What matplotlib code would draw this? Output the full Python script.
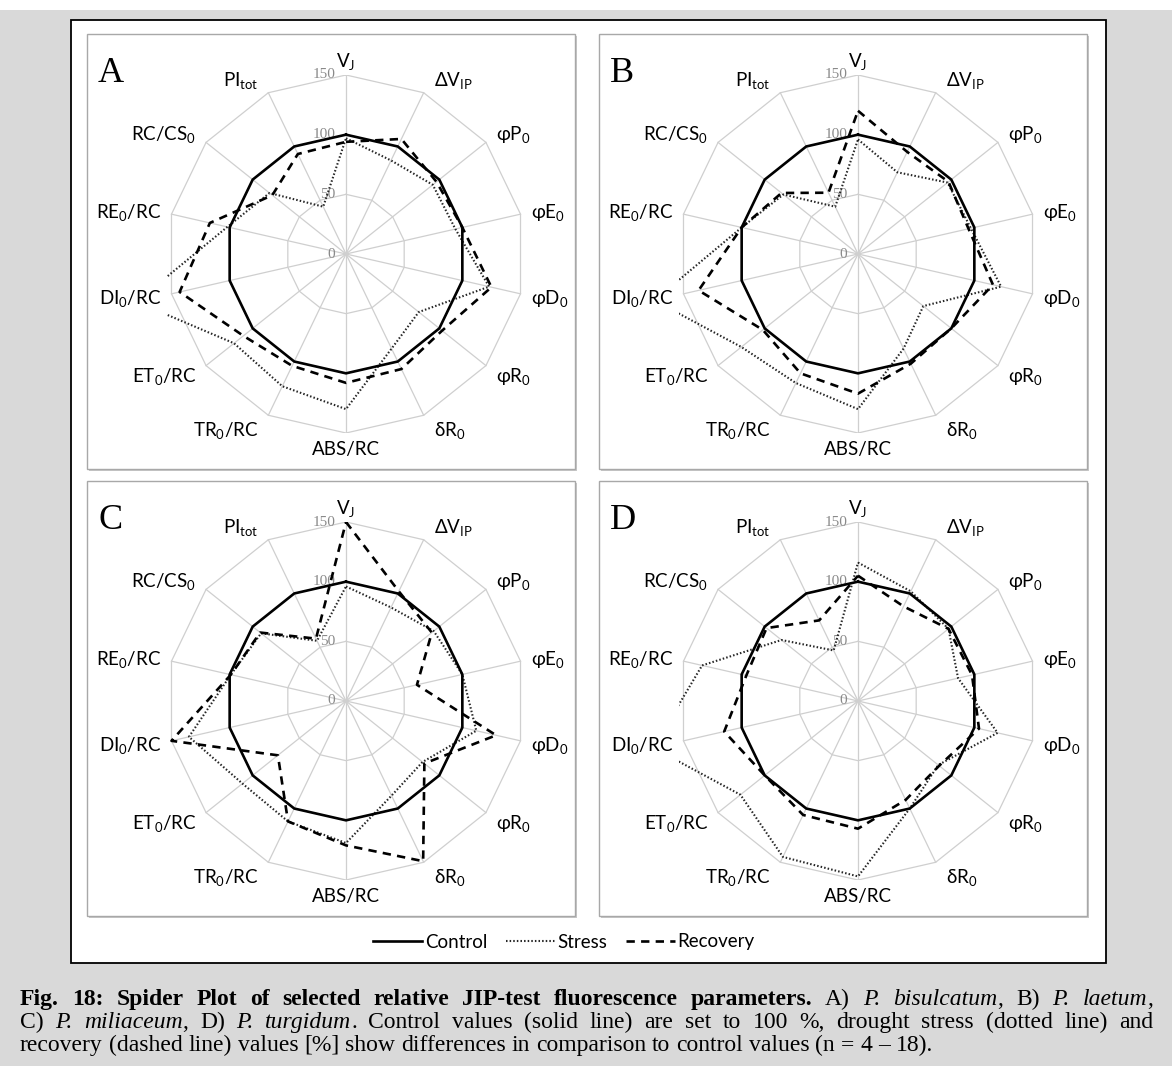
import re
import numpy as np
import matplotlib
matplotlib.use("Agg")
import matplotlib.pyplot as plt
from matplotlib.lines import Line2D
from matplotlib.patches import Rectangle

plt.rcParams["font.family"] = ["Lato", "DejaVu Sans"]
plt.rcParams["mathtext.fontset"] = "custom"
plt.rcParams["mathtext.rm"] = "Lato"
plt.rcParams["mathtext.it"] = "Lato:italic"
plt.rcParams["mathtext.bf"] = "Lato:bold"
plt.rcParams["lines.scale_dashes"] = False

# JIP-test parameters, clockwise from the top
params = ["V$_\\mathregular{J}$", "ΔV$_\\mathregular{IP}$", "φP$_\\mathregular{0}$",
          "φE$_\\mathregular{0}$", "φD$_\\mathregular{0}$", "φR$_\\mathregular{0}$",
          "δR$_\\mathregular{0}$", "ABS/RC", "TR$_\\mathregular{0}$/RC",
          "ET$_\\mathregular{0}$/RC", "DI$_\\mathregular{0}$/RC", "RE$_\\mathregular{0}$/RC",
          "RC/CS$_\\mathregular{0}$", "PI$_\\mathregular{tot}$"]

panel_letters = ["A", "B", "C", "D"]

# relative values in % of control
control = [100] * 14
stress_a = [97, 87, 93, 94, 123, 78, 88, 130, 123, 120, 180, 102, 82, 44]
recovery_a = [94, 107, 97, 100, 125, 103, 107, 108, 104, 110, 143, 117, 79, 93]
stress_b = [96, 76, 96, 97, 123, 70, 88, 130, 120, 125, 175, 100, 80, 44]
recovery_b = [120, 95, 97, 95, 116, 100, 102, 117, 111, 102, 137, 100, 82, 57]
stress_c = [96, 87, 94, 100, 112, 82, 88, 119, 112, 111, 135, 99, 91, 56]
recovery_c = [150, 102, 92, 61, 129, 84, 149, 121, 112, 73, 150, 99, 92, 58]
stress_d = [116, 102, 97, 86, 120, 86, 100, 147, 145, 126, 176, 134, 82, 47]
recovery_d = [105, 88, 97, 98, 104, 87, 92, 107, 106, 100, 115, 96, 98, 75]

stress = [stress_a, stress_b, stress_c, stress_d]
recovery = [recovery_a, recovery_b, recovery_c, recovery_d]

rings = [50, 100, 150]
ring_labels = ["0", "50", "100", "150"]

caption = [
    "**Fig. 18: Spider Plot of selected relative JIP-test fluorescence parameters.** A) _P. bisulcatum_, B) _P. laetum_,",
    "C) _P. miliaceum_, D) _P. turgidum_. Control values (solid line) are set to 100 %, drought stress (dotted line) and",
    "recovery (dashed line) values [%] show differences in comparison to control values (n = 4 – 18).",
]

W, H = 1172, 1066
fig = plt.figure(figsize=(W / 100, H / 100), dpi=100, facecolor="#d9d9d9")


def fx(x):
    return x / W


def fy(y):
    return 1 - y / H


def rect_px(x0, y0, x1, y1, **kw):
    r = Rectangle((fx(x0), fy(y1)), (x1 - x0) / W, (y1 - y0) / H,
                  transform=fig.transFigure, zorder=-5, **kw)
    fig.add_artist(r)
    return r


# white page strip and the framed white box
rect_px(0, 0, W, 10, facecolor="white", edgecolor="none")
rect_px(71, 20, 1106, 963, facecolor="white", edgecolor="black", linewidth=1.3)

theta = np.arange(14) * 2 * np.pi / 14
sx, sy = np.sin(theta), np.cos(theta)

style_ctrl = dict(color="black", linewidth=1.9, linestyle="-", solid_joinstyle="miter")
style_str = dict(color="#262626", linewidth=1.5, linestyle=(0, (1.1, 1.5)))
style_rec = dict(color="black", linewidth=1.9, linestyle=(0, (6.0, 4.5)))

panel_w, panel_h = 488, 435
panel_origin = [(87, 34), (599, 34), (87, 481), (599, 481)]
R = 179  # pixel radius of the 150 ring

renderer = fig.canvas.get_renderer()

for i, (px0, py0) in enumerate(panel_origin):
    # panel frame with a soft shadow
    rect_px(px0 + 2, py0 + 2, px0 + panel_w + 2, py0 + panel_h + 2,
            facecolor="#c8c8c8", edgecolor="none")
    rect_px(px0, py0, px0 + panel_w, py0 + panel_h,
            facecolor="white", edgecolor="#a8a8a8", linewidth=1.0)
    fig.text(fx(px0 + 11), fy(py0 + 48), panel_letters[i], fontsize=26,
             family="Liberation Serif", va="baseline", ha="left")

    cx, cy = px0 + 259, py0 + 220
    ax = fig.add_axes([fx(cx - R), fy(cy + R), 2 * R / W, 2 * R / H])
    ax.set_xlim(-150, 150)
    ax.set_ylim(-150, 150)
    ax.axis("off")
    ax.patch.set_alpha(0)

    # polygon grid and spokes
    for r in rings:
        ax.plot(np.append(r * sx, r * sx[0]), np.append(r * sy, r * sy[0]),
                color="#cfcfcf", linewidth=0.9, zorder=1)
    for s, c in zip(sx, sy):
        ax.plot([0, 150 * s], [0, 150 * c], color="#cfcfcf", linewidth=0.9, zorder=1)
    for v, lab in zip([0] + rings, ring_labels):
        ax.text(-9, v, lab, ha="right", va="center", fontsize=11,
                family="Liberation Serif", color="#8a8a8a", zorder=2)

    # category labels outside the outer ring
    for k, lab in enumerate(params):
        s, c = sx[k], sy[k]
        if s > 0.1:
            ha, dx = "left", 10
        elif s < -0.1:
            ha, dx = "right", -10
        else:
            ha, dx = "center", 0
        ax.annotate(lab, (150 * s, 150 * c), xytext=(dx, 15 * c - 1.5),
                    textcoords="offset pixels", ha=ha, va="center",
                    fontsize=13.5, annotation_clip=False)

    for vals, st, z in [(stress[i], style_str, 3), (recovery[i], style_rec, 4),
                        (control, style_ctrl, 5)]:
        v = np.array(vals, dtype=float)
        ax.plot(np.append(v * sx, v[0] * sx[0]), np.append(v * sy, v[0] * sy[0]),
                zorder=z, **st)

# legend under the panels
handles = [Line2D([], [], **style_ctrl), Line2D([], [], **style_str),
           Line2D([], [], **style_rec)]
fig.legend(handles, ["Control", "Stress", "Recovery"], loc="center",
           bbox_to_anchor=(fx(564), fy(942)), ncol=3, frameon=False,
           fontsize=13.5, handlelength=2.6, handletextpad=0.15, columnspacing=1.0)


# caption, justified except for the last line
def parse(line):
    words = [[]]
    for seg in re.split(r"(\*\*.+?\*\*|_.+?_)", line):
        if not seg:
            continue
        if seg.startswith("**"):
            style, txt = "bold", seg[2:-2]
        elif seg.startswith("_"):
            style, txt = "italic", seg[1:-1]
        else:
            style, txt = "normal", seg
        for j, part in enumerate(txt.split(" ")):
            if j > 0:
                words.append([])
            if part:
                words[-1].append((part, style))
    return [w for w in words if w]


cap_left, cap_right = 20, 1153
cap_base = [1005, 1028, 1051]
cap_size = 17
for n, line in enumerate(caption):
    words = parse(line)
    arts = []
    widths = []
    for w in words:
        pieces = []
        wsum = 0
        for txt, style in w:
            t = fig.text(0, fy(cap_base[n]), txt, fontsize=cap_size,
                         family="Liberation Serif", va="baseline", ha="left",
                         fontweight="bold" if style == "bold" else "normal",
                         fontstyle="italic" if style == "italic" else "normal")
            pw = t.get_window_extent(renderer).width
            pieces.append((t, pw))
            wsum += pw
        arts.append(pieces)
        widths.append(wsum)
    space = 0.25 * cap_size * 100 / 72
    if n < len(caption) - 1:
        gap = (cap_right - cap_left - sum(widths)) / (len(words) - 1)
    else:
        gap = space
    x = cap_left
    for pieces, wsum in zip(arts, widths):
        xx = x
        for t, pw in pieces:
            t.set_x(fx(xx))
            xx += pw
        x += wsum + gap

fig.savefig("out.png", dpi=100, facecolor=fig.get_facecolor())
